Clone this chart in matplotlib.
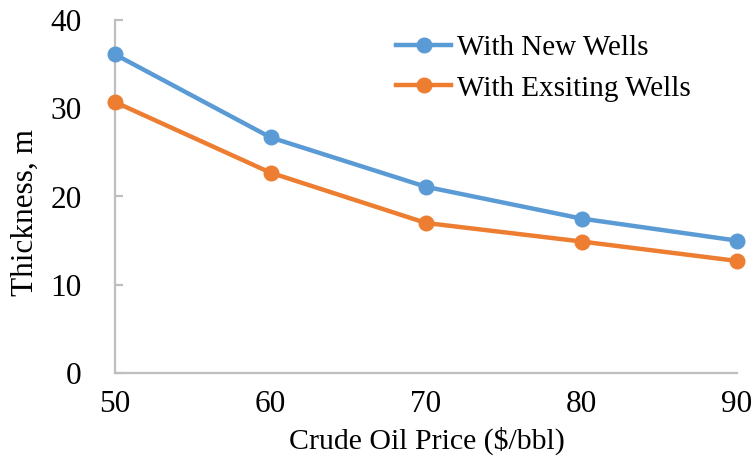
import matplotlib
matplotlib.use("Agg")
import matplotlib.pyplot as plt

# Break-even thickness versus crude oil price
prices = [50, 60, 70, 80, 90]
new_wells = [36.1, 26.7, 21.1, 17.5, 15.0]
existing_wells = [30.7, 22.7, 17.0, 14.9, 12.7]
series_labels = ["With New Wells", "With Exsiting Wells"]
x_ticks = [50, 60, 70, 80, 90]
y_ticks = [0, 10, 20, 30, 40]

plt.rcParams["font.family"] = ["Liberation Serif", "DejaVu Serif"]

fig = plt.figure(figsize=(7.53, 4.68), dpi=100)
ax = fig.add_axes([115 / 753, 1 - 373 / 468, (737 - 115) / 753, (373 - 20) / 468])

blue = "#5B9BD5"
orange = "#ED7D31"
ax.plot(prices, new_wells, color=blue, lw=3.2, marker="o", ms=10.5,
        label=series_labels[0], clip_on=False, zorder=3)
ax.plot(prices, existing_wells, color=orange, lw=3.2, marker="o", ms=10.5,
        label=series_labels[1], clip_on=False, zorder=3)

ax.set_xlim(50, 90)
ax.set_ylim(0, 40)
ax.set_xticks(x_ticks)
ax.set_yticks(y_ticks)

for side in ("top", "right"):
    ax.spines[side].set_visible(False)
for side in ("left", "bottom"):
    ax.spines[side].set_color("#BFBFBF")
    ax.spines[side].set_linewidth(1.6)

ax.tick_params(axis="y", direction="in", length=6, width=1.6, color="#BFBFBF",
               pad=24, labelsize=22.5)
ax.tick_params(axis="x", length=0, pad=12, labelsize=22.5)

fig.text(427 / 753, 1 - 441 / 468, "Crude Oil Price ($/bbl)", ha="center",
         va="center", fontsize=21.5)
fig.text(25 / 753, 1 - 212 / 468, "Thickness, m", ha="center", va="center",
         rotation=90, fontsize=22.5)

ax.legend(loc="upper left", bbox_to_anchor=(396 / 753, 1 - 35 / 468),
          bbox_transform=fig.transFigure, frameon=False, fontsize=21,
          handlelength=1.9, handletextpad=0.2, labelspacing=0.47,
          borderaxespad=0, borderpad=0)

fig.savefig("out.png", dpi=100)
